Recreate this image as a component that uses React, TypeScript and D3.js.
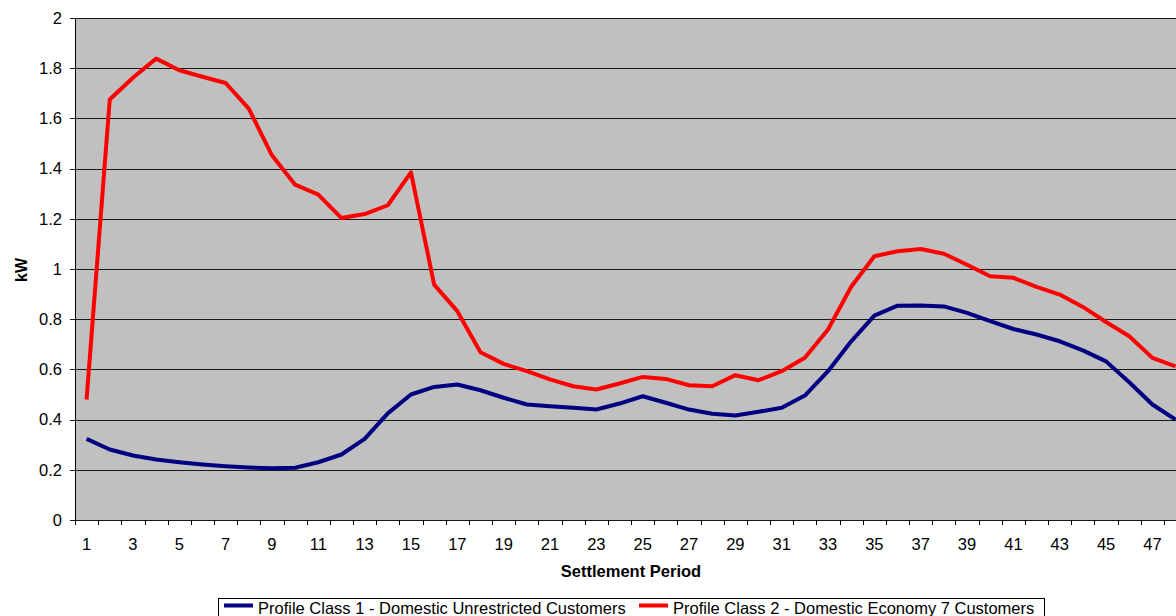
import React from "react";
import * as d3 from "d3";

const periods: string[] = [
  "1","2","3","4","5","6","7","8","9","10","11","12","13","14","15","16",
  "17","18","19","20","21","22","23","24","25","26","27","28","29","30","31","32",
  "33","34","35","36","37","38","39","40","41","42","43","44","45","46","47","48",
];

const class1: number[] = [
  0.323, 0.281, 0.257, 0.241, 0.23, 0.221, 0.214, 0.209, 0.206, 0.208, 0.23, 0.261,
  0.323, 0.425, 0.5, 0.53, 0.54, 0.517, 0.487, 0.46, 0.453, 0.447, 0.44, 0.464,
  0.493, 0.467, 0.44, 0.423, 0.416, 0.431, 0.447, 0.496, 0.593, 0.712, 0.814, 0.854,
  0.855, 0.851, 0.825, 0.792, 0.761, 0.739, 0.712, 0.676, 0.632, 0.549, 0.46, 0.4,
];

const class2: number[] = [
  0.48, 1.675, 1.762, 1.838, 1.792, 1.766, 1.741, 1.639, 1.453, 1.336, 1.296, 1.203,
  1.219, 1.254, 1.385, 0.938, 0.832, 0.668, 0.622, 0.593, 0.56, 0.533, 0.52, 0.544,
  0.57, 0.562, 0.537, 0.533, 0.577, 0.557, 0.593, 0.646, 0.759, 0.929, 1.051, 1.071,
  1.08, 1.061, 1.017, 0.971, 0.965, 0.929, 0.898, 0.849, 0.789, 0.732, 0.646, 0.612,
];

const yTicks: number[] = [0, 0.2, 0.4, 0.6, 0.8, 1, 1.2, 1.4, 1.6, 1.8, 2];

const seriesNames: string[] = [
  "Profile Class 1 - Domestic Unrestricted Customers",
  "Profile Class 2 - Domestic Economy 7 Customers",
];
const seriesColors: string[] = ["#000080", "#FF0000"];

const W = 1176;
const H = 616;
const left = 75;
const step = 23.17;
const font = "'Liberation Sans', Arial, sans-serif";
const fs = 16.5;

export default function App() {
  const x = d3
    .scaleBand<string>()
    .domain(periods)
    .range([left, left + step * periods.length])
    .padding(0);
  const y = d3.scaleLinear().domain([0, 2]).range([520, 18]);
  const cx = (p: string) => (x(p) as number) + x.bandwidth() / 2;

  const line = d3
    .line<number>()
    .x((_, i) => cx(periods[i]))
    .y((v) => y(v));

  const plotRight = left + step * periods.length;
  const bottom = y(0);
  const top = y(2);

  return (
    <svg
      width={W}
      height={H}
      style={{ position: "absolute", left: 0, top: 0, background: "#fff" }}
      fontFamily={font}
    >
      <rect x={left} y={top} width={plotRight - left} height={bottom - top} fill="#C0C0C0" />
      {yTicks.map((t) => (
        <g key={t}>
          <line
            x1={left - 5}
            x2={plotRight}
            y1={Math.round(y(t)) + 0.5}
            y2={Math.round(y(t)) + 0.5}
            stroke="#1a1a1a"
            strokeWidth={1}
            shapeRendering="crispEdges"
          />
          <text x={62} y={y(t)} dy="0.35em" textAnchor="end" fontSize={fs} fill="#000">
            {String(t)}
          </text>
        </g>
      ))}
      <line x1={left + 0.5} x2={left + 0.5} y1={top} y2={bottom + 5} stroke="#000" shapeRendering="crispEdges" />
      {periods.map((p) => (
        <line
          key={"t" + p}
          x1={Math.round(x(p) as number) + 0.5}
          x2={Math.round(x(p) as number) + 0.5}
          y1={bottom}
          y2={bottom + 5}
          stroke="#000"
          shapeRendering="crispEdges"
        />
      ))}
      {periods.map((p, i) =>
        i % 2 === 0 ? (
          <text key={"l" + p} x={cx(p)} y={550} textAnchor="middle" fontSize={fs} fill="#000">
            {p}
          </text>
        ) : null
      )}
      <text x={631} y={577} textAnchor="middle" fontSize={fs} fontWeight="bold" fill="#000">
        Settlement Period
      </text>
      <text
        transform={`translate(27,270) rotate(-90)`}
        textAnchor="middle"
        fontSize={16}
        fontWeight="bold"
        fill="#000"
      >
        kW
      </text>
      {[class1, class2].map((s, k) => (
        <path
          key={k}
          d={line(s) || ""}
          fill="none"
          stroke={seriesColors[k]}
          strokeWidth={4}
          strokeLinejoin="round"
        />
      ))}
      <rect x={218.5} y={598.5} width={826} height={30} fill="#fff" stroke="#000" strokeWidth={1} />
      <line x1={224} x2={253} y1={605.5} y2={605.5} stroke={seriesColors[0]} strokeWidth={4} />
      <text x={258} y={614} fontSize={fs} fill="#000">{seriesNames[0]}</text>
      <line x1={639} x2={668} y1={605.5} y2={605.5} stroke={seriesColors[1]} strokeWidth={4} />
      <text x={673} y={614} fontSize={fs} fill="#000">{seriesNames[1]}</text>
    </svg>
  );
}
